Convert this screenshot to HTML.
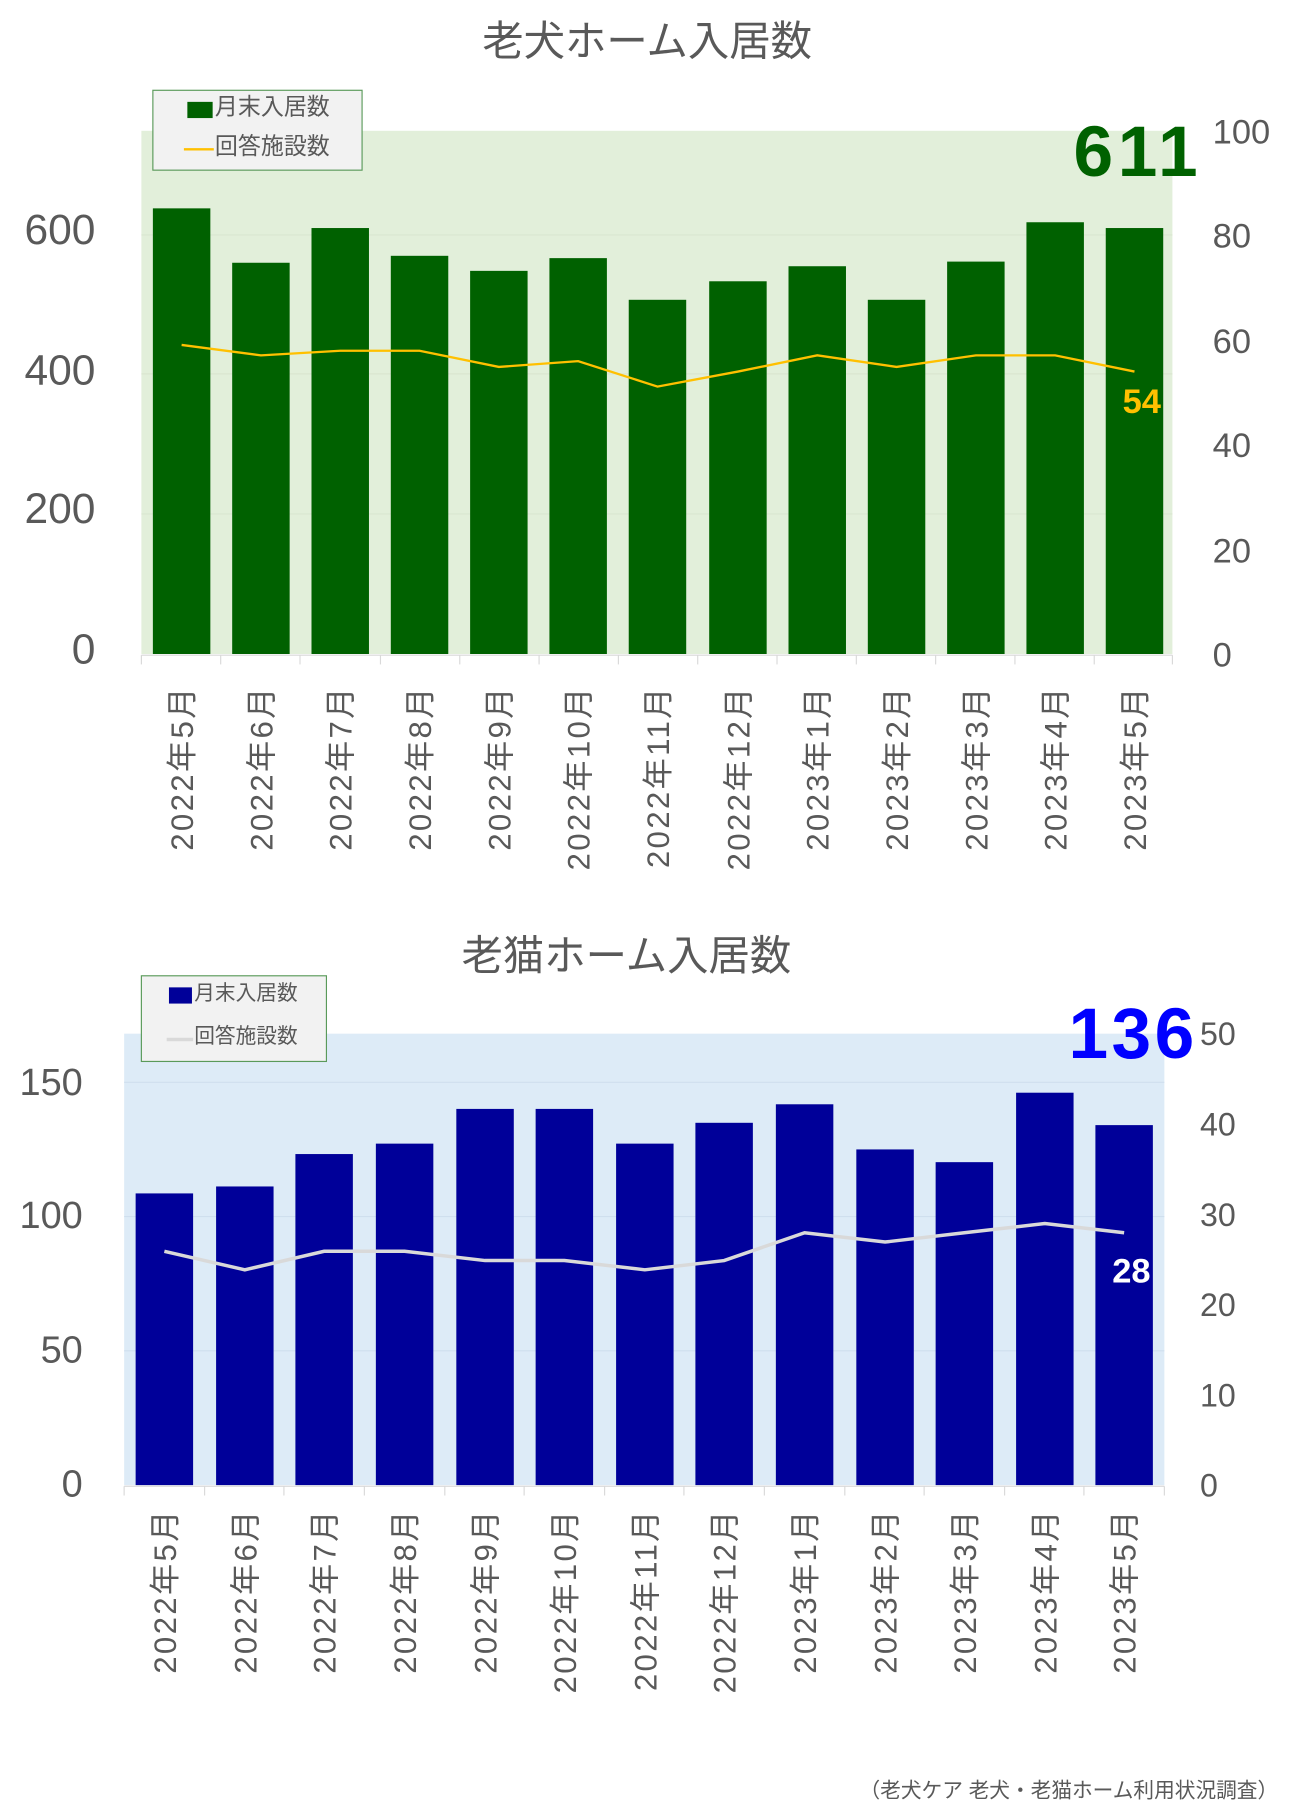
<!DOCTYPE html>
<html><head><meta charset="utf-8"><style>
html,body{margin:0;padding:0;background:#fff;}
svg{display:block;}
text{font-family:"Liberation Sans","Noto Sans CJK JP",sans-serif;}
</style></head><body>
<svg width="1300" height="1815" viewBox="0 0 1131 1568" preserveAspectRatio="none" xmlns="http://www.w3.org/2000/svg">
<!-- Chart 1 -->
<text x="563" y="48" font-size="36" fill="#595959" text-anchor="middle">老犬ホーム入居数</text>
<rect x="123" y="113" width="897" height="452" fill="#e2efda"/>
<g stroke="#d9e6d0" stroke-width="1"><line x1="123" y1="203" x2="1020" y2="203"/><line x1="123" y1="323" x2="1020" y2="323"/><line x1="123" y1="444" x2="1020" y2="444"/></g>
<g fill="#006100">
<rect x="133" y="180" width="50" height="385"/><rect x="202" y="227" width="50" height="338"/><rect x="271" y="197" width="50" height="368"/><rect x="340" y="221" width="50" height="344"/><rect x="409" y="234" width="50" height="331"/><rect x="478" y="223" width="50" height="342"/><rect x="547" y="259" width="50" height="306"/><rect x="617" y="243" width="50" height="322"/><rect x="686" y="230" width="50" height="335"/><rect x="755" y="259" width="50" height="306"/><rect x="824" y="226" width="50" height="339"/><rect x="893" y="192" width="50" height="373"/><rect x="962" y="197" width="50" height="368"/>
</g>
<polyline fill="none" stroke="#ffc000" stroke-width="2" points="158,298 227,307 296,303 365,303 434,317 503,312 572,334 642,321 711,307 780,317 849,307 918,307 987,321"/>
<line x1="123" y1="566" x2="1020" y2="566" stroke="#d9d9d9"/>
<g stroke="#d9d9d9"><line x1="123" y1="566" x2="123" y2="574"/><line x1="192" y1="566" x2="192" y2="574"/><line x1="261" y1="566" x2="261" y2="574"/><line x1="331" y1="566" x2="331" y2="574"/><line x1="400" y1="566" x2="400" y2="574"/><line x1="469" y1="566" x2="469" y2="574"/><line x1="538" y1="566" x2="538" y2="574"/><line x1="607" y1="566" x2="607" y2="574"/><line x1="676" y1="566" x2="676" y2="574"/><line x1="745" y1="566" x2="745" y2="574"/><line x1="814" y1="566" x2="814" y2="574"/><line x1="883" y1="566" x2="883" y2="574"/><line x1="952" y1="566" x2="952" y2="574"/><line x1="1020" y1="566" x2="1020" y2="574"/></g>
<g font-size="37" fill="#595959" text-anchor="end"><text x="83" y="211">600</text><text x="83" y="332">400</text><text x="83" y="452">200</text><text x="83" y="573">0</text></g>
<g font-size="30" fill="#595959"><text x="1055" y="124">100</text><text x="1055" y="214">80</text><text x="1055" y="305">60</text><text x="1055" y="395">40</text><text x="1055" y="486">20</text><text x="1055" y="576">0</text></g>
<text x="1046" y="152" font-size="62" font-weight="bold" fill="#006100" text-anchor="end" letter-spacing="4">611</text>
<text x="1010" y="357" font-size="30" font-weight="bold" fill="#ffc000" text-anchor="end">54</text>
<rect x="133" y="78" width="182" height="69" fill="#f2f2f2" stroke="#5a9a5a" stroke-width="1"/>
<rect x="163" y="88" width="22" height="14" fill="#006100"/>
<text x="187" y="99" font-size="20" fill="#595959">月末入居数</text>
<line x1="160" y1="129" x2="186" y2="129" stroke="#ffc000" stroke-width="2"/>
<text x="187" y="133" font-size="20" fill="#595959">回答施設数</text>
<g font-size="27" fill="#595959" text-anchor="end" letter-spacing="2">
<text transform="translate(168,592) rotate(-90)">2022年5月</text><text transform="translate(237,592) rotate(-90)">2022年6月</text><text transform="translate(306,592) rotate(-90)">2022年7月</text><text transform="translate(375,592) rotate(-90)">2022年8月</text><text transform="translate(444,592) rotate(-90)">2022年9月</text><text transform="translate(513,592) rotate(-90)">2022年10月</text><text transform="translate(582,592) rotate(-90)">2022年11月</text><text transform="translate(652,592) rotate(-90)">2022年12月</text><text transform="translate(721,592) rotate(-90)">2023年1月</text><text transform="translate(790,592) rotate(-90)">2023年2月</text><text transform="translate(859,592) rotate(-90)">2023年3月</text><text transform="translate(928,592) rotate(-90)">2023年4月</text><text transform="translate(997,592) rotate(-90)">2023年5月</text>
</g>

<!-- Chart 2 -->
<text x="545" y="838" font-size="36" fill="#595959" text-anchor="middle">老猫ホーム入居数</text>
<rect x="108" y="893" width="905" height="390" fill="#ddebf7"/>
<g stroke="#cfdfee" stroke-width="1"><line x1="108" y1="935" x2="1013" y2="935"/><line x1="108" y1="1051" x2="1013" y2="1051"/><line x1="108" y1="1167" x2="1013" y2="1167"/></g>
<g fill="#000099">
<rect x="118" y="1031" width="50" height="252"/><rect x="188" y="1025" width="50" height="258"/><rect x="257" y="997" width="50" height="286"/><rect x="327" y="988" width="50" height="295"/><rect x="397" y="958" width="50" height="325"/><rect x="466" y="958" width="50" height="325"/><rect x="536" y="988" width="50" height="295"/><rect x="605" y="970" width="50" height="313"/><rect x="675" y="954" width="50" height="329"/><rect x="745" y="993" width="50" height="290"/><rect x="814" y="1004" width="50" height="279"/><rect x="884" y="944" width="50" height="339"/><rect x="953" y="972" width="50" height="311"/>
</g>
<polyline fill="none" stroke="#d9d9d9" stroke-width="3" points="143,1081 213,1097 282,1081 352,1081 422,1089 491,1089 561,1097 630,1089 700,1065 770,1073 839,1065 909,1057 978,1065"/>
<line x1="108" y1="1284" x2="1013" y2="1284" stroke="#d9d9d9"/>
<g stroke="#d9d9d9"><line x1="108" y1="1284" x2="108" y2="1292"/><line x1="178" y1="1284" x2="178" y2="1292"/><line x1="247" y1="1284" x2="247" y2="1292"/><line x1="317" y1="1284" x2="317" y2="1292"/><line x1="387" y1="1284" x2="387" y2="1292"/><line x1="456" y1="1284" x2="456" y2="1292"/><line x1="526" y1="1284" x2="526" y2="1292"/><line x1="595" y1="1284" x2="595" y2="1292"/><line x1="665" y1="1284" x2="665" y2="1292"/><line x1="735" y1="1284" x2="735" y2="1292"/><line x1="804" y1="1284" x2="804" y2="1292"/><line x1="874" y1="1284" x2="874" y2="1292"/><line x1="943" y1="1284" x2="943" y2="1292"/><line x1="1013" y1="1284" x2="1013" y2="1292"/></g>
<g font-size="33" fill="#595959" text-anchor="end"><text x="72" y="946">150</text><text x="72" y="1061">100</text><text x="72" y="1177">50</text><text x="72" y="1293">0</text></g>
<g font-size="28" fill="#595959"><text x="1044" y="903">50</text><text x="1044" y="981">40</text><text x="1044" y="1059">30</text><text x="1044" y="1137">20</text><text x="1044" y="1215">10</text><text x="1044" y="1293">0</text></g>
<text x="1042" y="914" font-size="62" font-weight="bold" fill="#0000ff" text-anchor="end" letter-spacing="3">136</text>
<text x="1001" y="1108" font-size="30" font-weight="bold" fill="#ffffff" text-anchor="end">28</text>
<rect x="123" y="843" width="161" height="74" fill="#f2f2f2" stroke="#5a9a5a" stroke-width="1"/>
<rect x="147" y="853" width="20" height="14" fill="#000099"/>
<text x="169" y="864" font-size="18" fill="#595959">月末入居数</text>
<line x1="145" y1="898" x2="168" y2="898" stroke="#d9d9d9" stroke-width="3"/>
<text x="169" y="901" font-size="18" fill="#595959">回答施設数</text>
<g font-size="27" fill="#595959" text-anchor="end" letter-spacing="2">
<text transform="translate(153,1303) rotate(-90)">2022年5月</text><text transform="translate(223,1303) rotate(-90)">2022年6月</text><text transform="translate(292,1303) rotate(-90)">2022年7月</text><text transform="translate(362,1303) rotate(-90)">2022年8月</text><text transform="translate(432,1303) rotate(-90)">2022年9月</text><text transform="translate(501,1303) rotate(-90)">2022年10月</text><text transform="translate(571,1303) rotate(-90)">2022年11月</text><text transform="translate(640,1303) rotate(-90)">2022年12月</text><text transform="translate(710,1303) rotate(-90)">2023年1月</text><text transform="translate(780,1303) rotate(-90)">2023年2月</text><text transform="translate(849,1303) rotate(-90)">2023年3月</text><text transform="translate(919,1303) rotate(-90)">2023年4月</text><text transform="translate(988,1303) rotate(-90)">2023年5月</text>
</g>
<text x="1112" y="1553" font-size="18" fill="#595959" text-anchor="end">（老犬ケア 老犬・老猫ホーム利用状況調査）</text>
</svg>
</body></html>
